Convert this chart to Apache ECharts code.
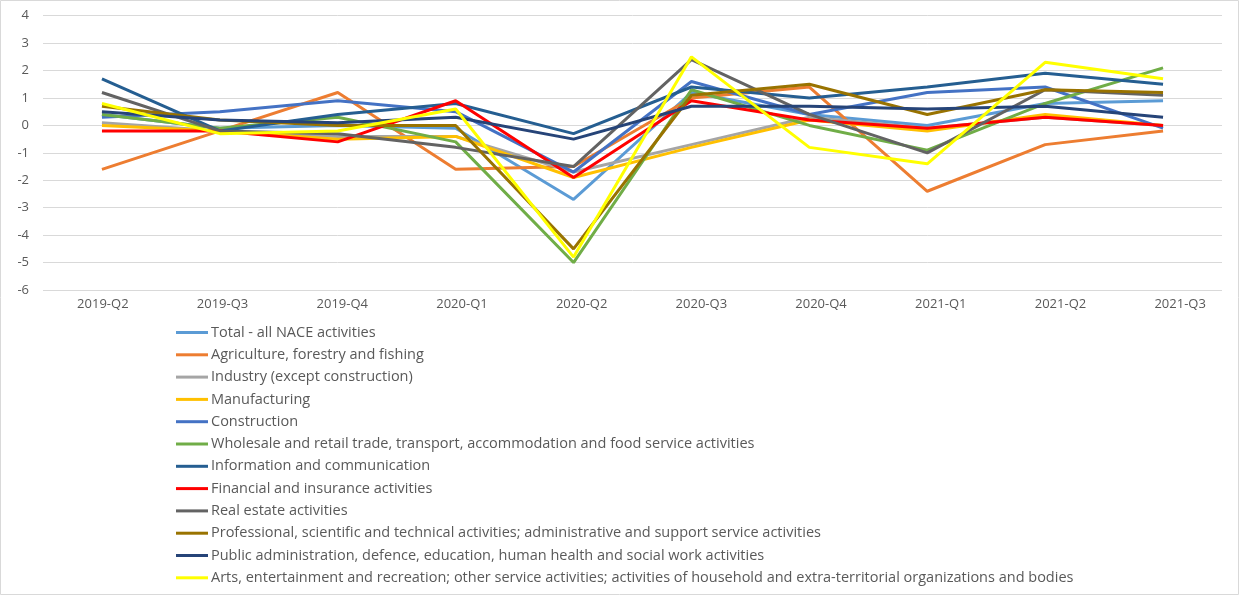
<!DOCTYPE html>
<html>
<head>
<meta charset="utf-8">
<title>Quarterly change by NACE activity</title>
<script src="https://cdn.jsdelivr.net/npm/echarts@6/dist/echarts.min.js"></script>
<style>
	html, body { margin: 0; height: 100%; background: #fff; }
	#main { width: 1240px; height: 596px; }
</style>
</head>
<body>
<div id="main"></div>
<script>
var quarters = ['2019-Q2', '2019-Q3', '2019-Q4', '2020-Q1', '2020-Q2', '2020-Q3', '2020-Q4', '2021-Q1', '2021-Q2', '2021-Q3'];

var total        = [0.4, -0.1, 0.0, -0.1, -2.7, 1.2, 0.4, 0.0, 0.8, 0.9];
var agriculture  = [-1.6, -0.2, 1.2, -1.6, -1.5, 1.0, 1.4, -2.4, -0.7, -0.2];
var industry     = [0.1, -0.2, -0.4, -0.4, -1.7, -0.7, 0.3, -0.1, 0.3, 0.0];
var manufacturing = [0.0, -0.2, -0.5, -0.4, -1.9, -0.8, 0.2, -0.2, 0.4, 0.0];
var construction = [0.3, 0.5, 0.9, 0.5, -1.7, 1.6, 0.4, 1.2, 1.4, -0.1];
var wholesale    = [0.4, -0.1, 0.3, -0.6, -5.0, 1.3, 0.0, -0.9, 0.8, 2.1];
var infoComm     = [1.7, -0.2, 0.4, 0.8, -0.3, 1.4, 1.0, 1.4, 1.9, 1.5];
var financial    = [-0.2, -0.2, -0.6, 0.9, -1.9, 0.9, 0.2, -0.1, 0.3, 0.0];
var realEstate   = [1.2, -0.2, -0.3, -0.8, -1.5, 2.4, 0.4, -1.0, 1.3, 1.1];
var professional = [0.7, 0.2, 0.0, 0.0, -4.5, 1.1, 1.5, 0.4, 1.3, 1.2];
var publicAdmin  = [0.5, 0.2, 0.1, 0.3, -0.5, 0.7, 0.7, 0.6, 0.7, 0.3];
var arts         = [0.8, -0.3, -0.2, 0.6, -4.8, 2.5, -0.8, -1.4, 2.3, 1.7];

var names = [
	'Total - all NACE activities',
	'Agriculture, forestry and fishing',
	'Industry (except construction)',
	'Manufacturing',
	'Construction',
	'Wholesale and retail trade, transport, accommodation and food service activities',
	'Information and communication',
	'Financial and insurance activities',
	'Real estate activities',
	'Professional, scientific and technical activities; administrative and support service activities',
	'Public administration, defence, education, human health and social work activities',
	'Arts, entertainment and recreation; other service activities; activities of household and extra-territorial organizations and bodies'
];
var values = [total, agriculture, industry, manufacturing, construction, wholesale, infoComm, financial, realEstate, professional, publicAdmin, arts];
var colors = ['#5B9BD5', '#ED7D31', '#A5A5A5', '#FFC000', '#4472C4', '#70AD47', '#255E91', '#FF0000', '#636363', '#997300', '#264478', '#FFFF00'];

var series = names.map(function (n, i) {
	return {
		name: n,
		type: 'line',
		data: values[i],
		symbol: 'none',
		lineStyle: { width: 3, color: colors[i] },
		itemStyle: { color: colors[i] },
		z: 2 + i
	};
});

var myChart = echarts.init(document.getElementById('main'));
myChart.setOption({
	animation: false,
	textStyle: { fontFamily: 'Open Sans' },
	graphic: [{
		type: 'rect',
		shape: { x: 0.5, y: 0.5, width: 1238, height: 594 },
		style: { fill: 'none', stroke: '#d9d9d9', lineWidth: 1 },
		silent: true
	}],
	grid: [
		{ left: 43, right: 18, top: 15.7, height: 274.3 },
		// excel spreads the category labels a bit wider than the plotted points
		{ left: 43, width: 1204, top: 15.7, height: 274.3 }
	],
	xAxis: [{
		type: 'category',
		data: quarters,
		axisLine: { show: false },
		axisTick: { show: false },
		axisLabel: { show: false }
	}, {
		type: 'category',
		gridIndex: 1,
		data: quarters,
		axisLine: { show: false },
		axisTick: { show: false },
		axisLabel: { color: '#595959', fontSize: 13, margin: 8 }
	}],
	yAxis: [{
		type: 'value',
		min: -6,
		max: 4,
		interval: 1,
		axisLine: { show: false },
		axisTick: { show: false },
		axisLabel: { color: '#595959', fontSize: 13, margin: 14 },
		splitLine: { lineStyle: { color: '#d9d9d9', width: 1 } }
	}, {
		type: 'value',
		gridIndex: 1,
		min: -6,
		max: 4,
		show: false,
		splitLine: { show: false }
	}],
	legend: {
		orient: 'vertical',
		left: 176,
		top: 325,
		height: 268,
		padding: 0,
		icon: 'rect',
		itemWidth: 32,
		itemHeight: 3,
		itemGap: 7.3,
		textStyle: { color: '#595959', fontSize: 14.5, lineHeight: 14, padding: [0, 0, 0, -2] },
		data: names
	},
	series: series
});
</script>
</body>
</html>
